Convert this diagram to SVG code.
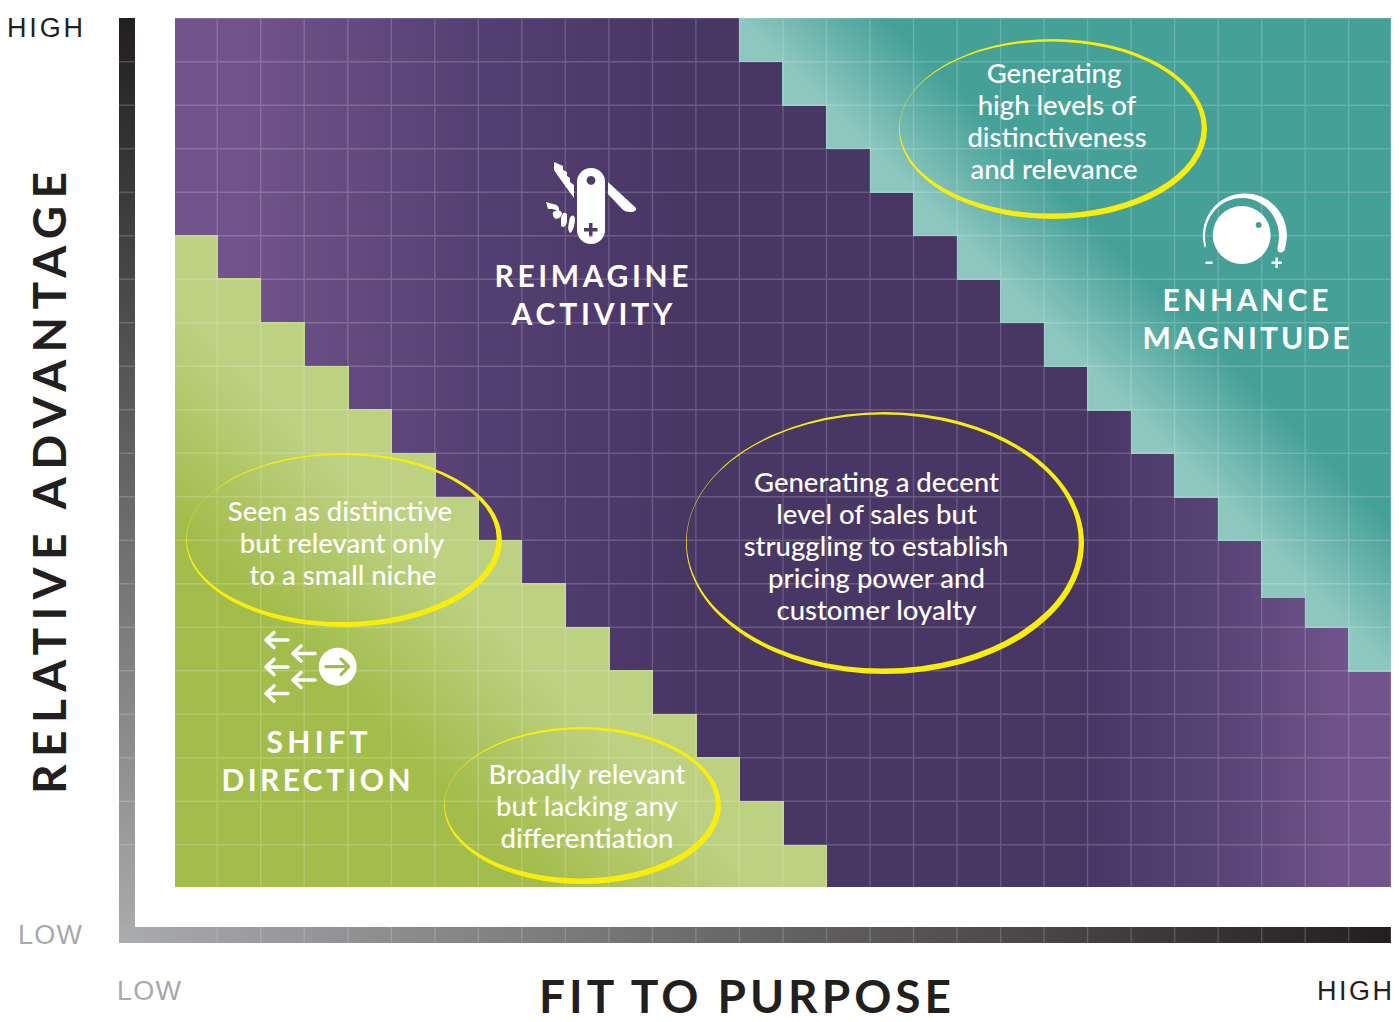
<svg xmlns="http://www.w3.org/2000/svg" width="1400" height="1022" viewBox="0 0 1400 1022">
<style>
.body{font-family:Lato,"Liberation Sans",sans-serif;font-size:27.5px;font-weight:500;fill:#fff;text-anchor:middle}
.lab{font-family:Lato,"Liberation Sans",sans-serif;font-size:30px;font-weight:700;fill:#fff;text-anchor:middle}
.axis{font-family:Lato,"Liberation Sans",sans-serif;font-weight:700;fill:#231f20;text-anchor:middle}
.end{font-family:"Liberation Sans",Arial,sans-serif;font-size:27px;text-anchor:start}
.ring{fill:#f9ed0e;fill-rule:evenodd}
.ico{fill:#fff}
.arr{fill:none;stroke:#fff;stroke-width:3.6;stroke-linecap:round;stroke-linejoin:round}
</style>
<defs>
<linearGradient id="gP" gradientUnits="userSpaceOnUse" x1="175" y1="0" x2="1391" y2="0">
<stop offset="0" stop-color="#71548b"/><stop offset=".06" stop-color="#70538a"/><stop offset=".25" stop-color="#543f72"/><stop offset=".42" stop-color="#483665"/><stop offset=".75" stop-color="#483665"/><stop offset=".88" stop-color="#5c4679"/><stop offset=".96" stop-color="#70538a"/><stop offset="1" stop-color="#71548b"/>
</linearGradient>
<linearGradient id="gT" gradientUnits="userSpaceOnUse" x1="1000" y1="280" x2="1075" y2="205">
<stop offset="0" stop-color="#8dc7c0"/><stop offset="1" stop-color="#45a097"/>
</linearGradient>
<linearGradient id="gG" gradientUnits="userSpaceOnUse" x1="300" y1="430" x2="195" y2="535">
<stop offset="0" stop-color="#bdd182"/><stop offset="1" stop-color="#a2bd4c"/>
</linearGradient>
<linearGradient id="gV" x1="0" y1="0" x2="0" y2="1">
<stop offset="0" stop-color="#231f20"/><stop offset="1" stop-color="#aaabad"/>
</linearGradient>
<linearGradient id="gH" x1="0" y1="0" x2="1" y2="0">
<stop offset="0" stop-color="#aaabad"/><stop offset="1" stop-color="#231f20"/>
</linearGradient>
</defs>
<rect width="1400" height="1022" fill="#fff"/>
<g id="axes">
<rect x="119" y="18" width="16" height="925" fill="url(#gV)"/>
<rect x="119" y="927" width="1272" height="16" fill="url(#gH)"/>
</g>
<g id="regions">
<rect id="reimagine-region" x="175" y="18" width="1216" height="869" fill="url(#gP)"/>
<path id="shift-region" fill="url(#gG)" d="M175 235H218V278H261V322H305V366H349V409H392V453H436V497H479V540H522V583H566V627H610V670H653V714H697V757H740V801H784V845H827V887H175Z"/>
<path id="enhance-region" fill="url(#gT)" d="M739 18V62H782V106H826V149H870V193H913V236H957V280H1000V323H1044V367H1087V411H1131V454H1174V498H1218V541H1261V598H1305V628H1348V672H1391V18Z"/>
</g>
<path id="grid" fill="none" stroke="#fff" stroke-opacity=".18" stroke-width="1.4" d="M217.2 18V943M260.7 18V943M304.2 18V943M347.8 18V943M391.3 18V943M434.8 18V943M478.3 18V943M521.8 18V943M565.4 18V943M608.9 18V943M652.4 18V943M695.9 18V943M739.4 18V943M783 18V943M826.5 18V943M870 18V943M913.5 18V943M957 18V943M1000.6 18V943M1044.1 18V943M1087.6 18V943M1131.1 18V943M1174.6 18V943M1218.2 18V943M1261.7 18V943M1305.2 18V943M1348.7 18V943M119 61.7H1391M119 105.2H1391M119 148.7H1391M119 192.2H1391M119 235.7H1391M119 279.2H1391M119 322.7H1391M119 366.2H1391M119 409.7H1391M119 453.2H1391M119 496.7H1391M119 540.2H1391M119 583.7H1391M119 627.2H1391M119 670.7H1391M119 714.2H1391M119 757.7H1391M119 801.2H1391M119 844.7H1391M175 18H1391M1391 18V943"/>
<g id="oval-enhance">
<path class="ring" d="M899 129a154 90 0 1 0 308 0a154 90 0 1 0-308 0ZM899.700 127.500a151 86 0 1 0 302 0a151 86 0 1 0-302 0Z"/>
<text class="body" x="1054" y="83">Generating</text><text class="body" x="1057" y="115">high levels of</text><text class="body" x="1057" y="147">distinctiveness</text><text class="body" x="1054" y="179">and relevance</text>
</g>
<g id="oval-shift">
<path class="ring" d="M186 540a158 87 0 1 0 316 0a158 87 0 1 0-316 0ZM186.700 538.500a155 83.500 0 1 0 310 0a155 83.500 0 1 0-310 0Z"/>
<text class="body" x="340" y="521">Seen as distinctive</text><text class="body" x="342" y="553">but relevant only</text><text class="body" x="343" y="585">to a small niche</text>
</g>
<g id="oval-reimagine">
<path class="ring" d="M686 543a199 131 0 1 0 398 0a199 131 0 1 0-398 0ZM686.700 541.500a196 127 0 1 0 392 0a196 127 0 1 0-392 0Z"/>
<text class="body" x="876.500" y="492">Generating a decent</text><text class="body" x="876.500" y="524">level of sales but</text><text class="body" x="876" y="556">struggling to establish</text><text class="body" x="876.500" y="588">pricing power and</text><text class="body" x="876.500" y="620">customer loyalty</text>
</g>
<g id="oval-bottom">
<path class="ring" d="M444 805.500a138.500 78.500 0 1 0 277 0a138.500 78.500 0 1 0-277 0ZM444.700 804a135.500 74.500 0 1 0 271 0a135.500 74.500 0 1 0-271 0Z"/>
<text class="body" x="587" y="784">Broadly relevant</text><text class="body" x="587" y="816">but lacking any</text><text class="body" x="587" y="848">differentiation</text>
</g>
<g id="reimagine">
<g class="ico">
<path d="M591 168a14 14 0 0 1 14 14v48a14 14 0 0 1-28 0v-48a14 14 0 0 1 14-14ZM591 176a4.400 4.400 0 1 0 .01 0ZM589 223v5h-5v3.500h5v5h3.500v-5h5v-3.500h-5v-5Z" fill-rule="evenodd"/>
<path d="M608 182L636 208Q637 210 634 211.500Q627 213 623 210L608 194Z"/>
<path d="M554 162L563 166V170L567 172V176L570 178V182L574 185V198L558 176L554 170Z"/>
<path d="M546 202L553 204Q560 205 559 211L552 209L548 209ZM553 212Q560 208 562 213Q562 218 556 219Q552 217 553 212ZM561 218Q563 210 567 214L567 222Q565 229 561 226ZM569 222Q570 214 574 216Q576 218 574 226Q572 233 570 233Q567 230 569 222Z"/>
</g>
<text class="lab" x="591.500" y="287" textLength="194" lengthAdjust="spacing">REIMAGINE</text>
<text class="lab" x="592" y="325" textLength="161" lengthAdjust="spacing">ACTIVITY</text>
</g>
<g id="enhance">
<g class="ico">
<circle cx="1241.700" cy="235" r="29"/>
<path d="M1204.800 248A42 42 0 1 1 1285.500 246Q1285 252 1281 252.500Q1277 252.500 1277.500 247.300A37 38.500 0 1 0 1206 245.400Z"/>
<rect x="1205.500" y="261.500" width="7" height="2.500"/>
<path d="M1275.500 257.500h2.500v4h4v2.500h-4v4h-2.500v-4h-4v-2.500h4Z"/>
</g>
<circle cx="1258.700" cy="225" r="3" fill="#45a097"/>
<text class="lab" x="1245.500" y="311" textLength="166" lengthAdjust="spacing">ENHANCE</text>
<text class="lab" x="1246" y="349" textLength="207" lengthAdjust="spacing">MAGNITUDE</text>
</g>
<g id="shift">
<path class="arr" d="M288 640H266M274 632.500L266 640L274 647.500M315 653.500H293M301 646L293 653.500L301 661M288 667H266M274 659.500L266 667L274 674.500M315 680H293M301 672.500L293 680L301 687.500M288 693.500H266M274 686L266 693.500L274 701"/>
<circle cx="337.700" cy="666.700" r="19" fill="#fff"/>
<path d="M326 666.700H348M341 659L348.700 666.700L341 674.500" fill="none" stroke="#a2bd4c" stroke-width="3.200" stroke-linecap="round" stroke-linejoin="round"/>
<text class="lab" x="317" y="753" textLength="101" lengthAdjust="spacing">SHIFT</text>
<text class="lab" x="316" y="791" textLength="189" lengthAdjust="spacing">DIRECTION</text>
</g>
<g id="axis-labels">
<text class="axis" font-size="46" transform="translate(66 483) rotate(-90)" textLength="622" lengthAdjust="spacing">RELATIVE  ADVANTAGE</text>
<text class="axis" font-size="46" x="745" y="1013" textLength="412" lengthAdjust="spacing">FIT TO PURPOSE</text>
<text class="end" x="7" y="37" fill="#231f20" textLength="76" lengthAdjust="spacing">HIGH</text>
<text class="end" x="18" y="944" fill="#a7a9ac" textLength="64" lengthAdjust="spacing">LOW</text>
<text class="end" x="117" y="1000" fill="#a7a9ac" textLength="64" lengthAdjust="spacing">LOW</text>
<text class="end" x="1317" y="1000" fill="#231f20" textLength="75" lengthAdjust="spacing">HIGH</text>
</g>
</svg>
